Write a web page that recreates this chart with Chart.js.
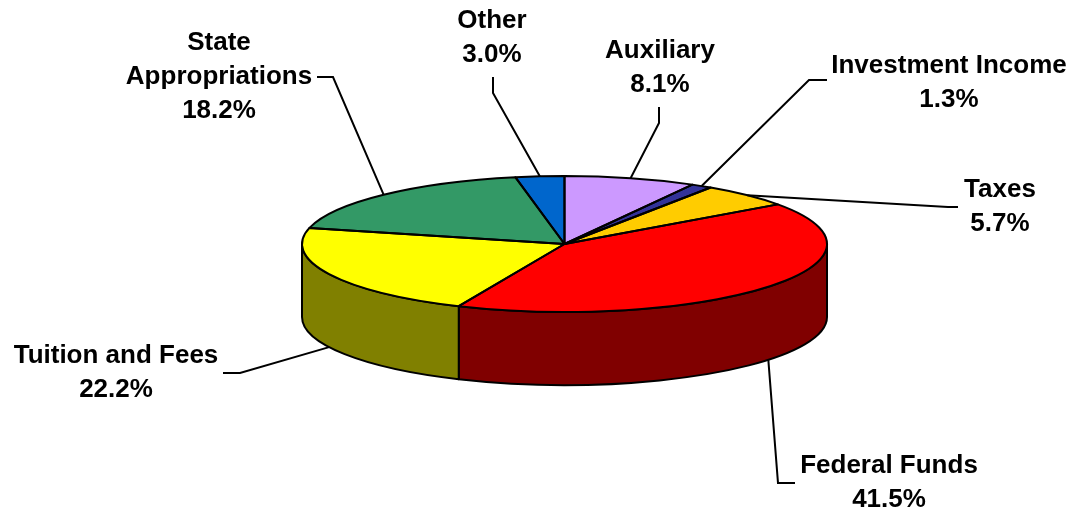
<!DOCTYPE html>
<html>
<head>
<meta charset="utf-8">
<script src="https://cdn.jsdelivr.net/npm/chart.js@4.4.1/dist/chart.umd.min.js"></script>
<style>
  html, body { margin: 0; padding: 0; background: #ffffff; }
  #wrap { width: 1076px; height: 512px; }
</style>
</head>
<body>
<div id="wrap"><canvas id="c" width="1076" height="512"></canvas></div>
<script>
// ---- data ----
const categories = ['Auxiliary', 'Investment Income', 'Taxes', 'Federal Funds', 'Tuition and Fees', 'State Appropriations', 'Other'];
const shares = [8.1, 1.3, 5.7, 41.5, 22.2, 18.2, 3.0];
const labelLines = [['Auxiliary'], ['Investment Income'], ['Taxes'], ['Federal Funds'], ['Tuition and Fees'], ['State', 'Appropriations'], ['Other']];

// ---- styles ----
const topColors = ['#CC99FF', '#333399', '#FFCC00', '#FF0000', '#FFFF00', '#339966', '#0066CC'];
const sideColors = ['#664C80', '#1A1A4D', '#806600', '#800000', '#808000', '#1A4D33', '#003366'];
const GEOM = { cx: 564.5, cy: 244, rx: 262.5, ry: 68, depth: 73 };
const FONT = 'bold 26px "Liberation Sans", Arial, sans-serif';
const LINE_H = 34;
// label placement: text centre x, first baseline y, leader elbow points (label side first)
const LAYOUT = [
  { x: 660, y: 58,  pts: [[659, 107], [659, 123]] },
  { x: 949, y: 73,  pts: [[827, 80], [809, 80]] },
  { x: 1000, y: 197, pts: [[958, 207], [948, 207]] },
  { x: 889, y: 473, pts: [[795, 483], [778, 483]] },
  { x: 116, y: 363, pts: [[223, 373], [240, 373]] },
  { x: 219, y: 50,  pts: [[317, 77], [333, 77]] },
  { x: 492, y: 28,  pts: [[493, 77], [493, 93]] }
];

const pie3d = {
  id: 'pie3d',
  beforeDatasetsDraw(chart) {
    const ctx = chart.ctx;
    const arcs = chart.getDatasetMeta(0).data;
    const { cx, cy, rx, ry, depth } = GEOM;
    ctx.save();
    arcs.forEach((arc, i) => {
      const a = Math.max(arc.startAngle, 0);
      const b = Math.min(arc.endAngle, Math.PI);
      if (b <= a) return;
      ctx.beginPath();
      ctx.ellipse(cx, cy, rx, ry, 0, a, b);
      ctx.ellipse(cx, cy + depth, rx, ry, 0, b, a, true);
      ctx.closePath();
      ctx.fillStyle = sideColors[i];
      ctx.fill();
      ctx.lineWidth = 2;
      ctx.strokeStyle = '#000';
      ctx.lineJoin = 'round';
      ctx.stroke();
    });
    ctx.restore();
    const a0 = arcs[0];
    const R = a0.outerRadius;
    ctx.save();
    ctx.translate(cx, cy);
    ctx.scale(rx / R, ry / R);
    ctx.translate(-a0.x, -a0.y);
  },
  afterDatasetsDraw(chart) {
    const ctx = chart.ctx;
    ctx.restore();
    const arcs = chart.getDatasetMeta(0).data;
    const { cx, cy, rx, ry } = GEOM;
    ctx.save();
    ctx.lineWidth = 2;
    ctx.strokeStyle = '#000';
    ctx.lineJoin = 'round';
    arcs.forEach((arc) => {
      ctx.beginPath();
      ctx.moveTo(cx, cy);
      ctx.ellipse(cx, cy, rx, ry, 0, arc.startAngle, arc.endAngle);
      ctx.closePath();
      ctx.stroke();
    });
    ctx.restore();
  },
  afterDraw(chart) {
    const ctx = chart.ctx;
    const arcs = chart.getDatasetMeta(0).data;
    const { cx, cy, rx, ry, depth } = GEOM;
    ctx.save();
    ctx.font = FONT;
    ctx.fillStyle = '#000';
    ctx.textAlign = 'center';
    ctx.textBaseline = 'alphabetic';
    arcs.forEach((arc, i) => {
      const L = LAYOUT[i];
      const lines = labelLines[i].concat([shares[i].toFixed(1) + '%']);
      lines.forEach((t, k) => ctx.fillText(t, L.x, L.y + k * LINE_H));
      const mid = (arc.startAngle + arc.endAngle) / 2;
      let ax = cx + rx * Math.cos(mid);
      let ay = cy + ry * Math.sin(mid);
      if (Math.sin(mid) > 0) ay += depth;
      ctx.beginPath();
      ctx.moveTo(L.pts[0][0], L.pts[0][1]);
      for (let k = 1; k < L.pts.length; k++) ctx.lineTo(L.pts[k][0], L.pts[k][1]);
      ctx.lineTo(ax, ay);
      ctx.lineWidth = 2;
      ctx.strokeStyle = '#000';
      ctx.stroke();
    });
    ctx.restore();
  }
};

new Chart(document.getElementById('c'), {
  type: 'pie',
  data: {
    labels: categories,
    datasets: [{
      data: shares,
      backgroundColor: topColors,
      borderWidth: 0,
      hoverOffset: 0
    }]
  },
  options: {
    responsive: false,
    devicePixelRatio: 1,
    animation: false,
    events: [],
    layout: { padding: 0 },
    plugins: { legend: { display: false }, tooltip: { enabled: false } }
  },
  plugins: [pie3d]
});
</script>
</body>
</html>
